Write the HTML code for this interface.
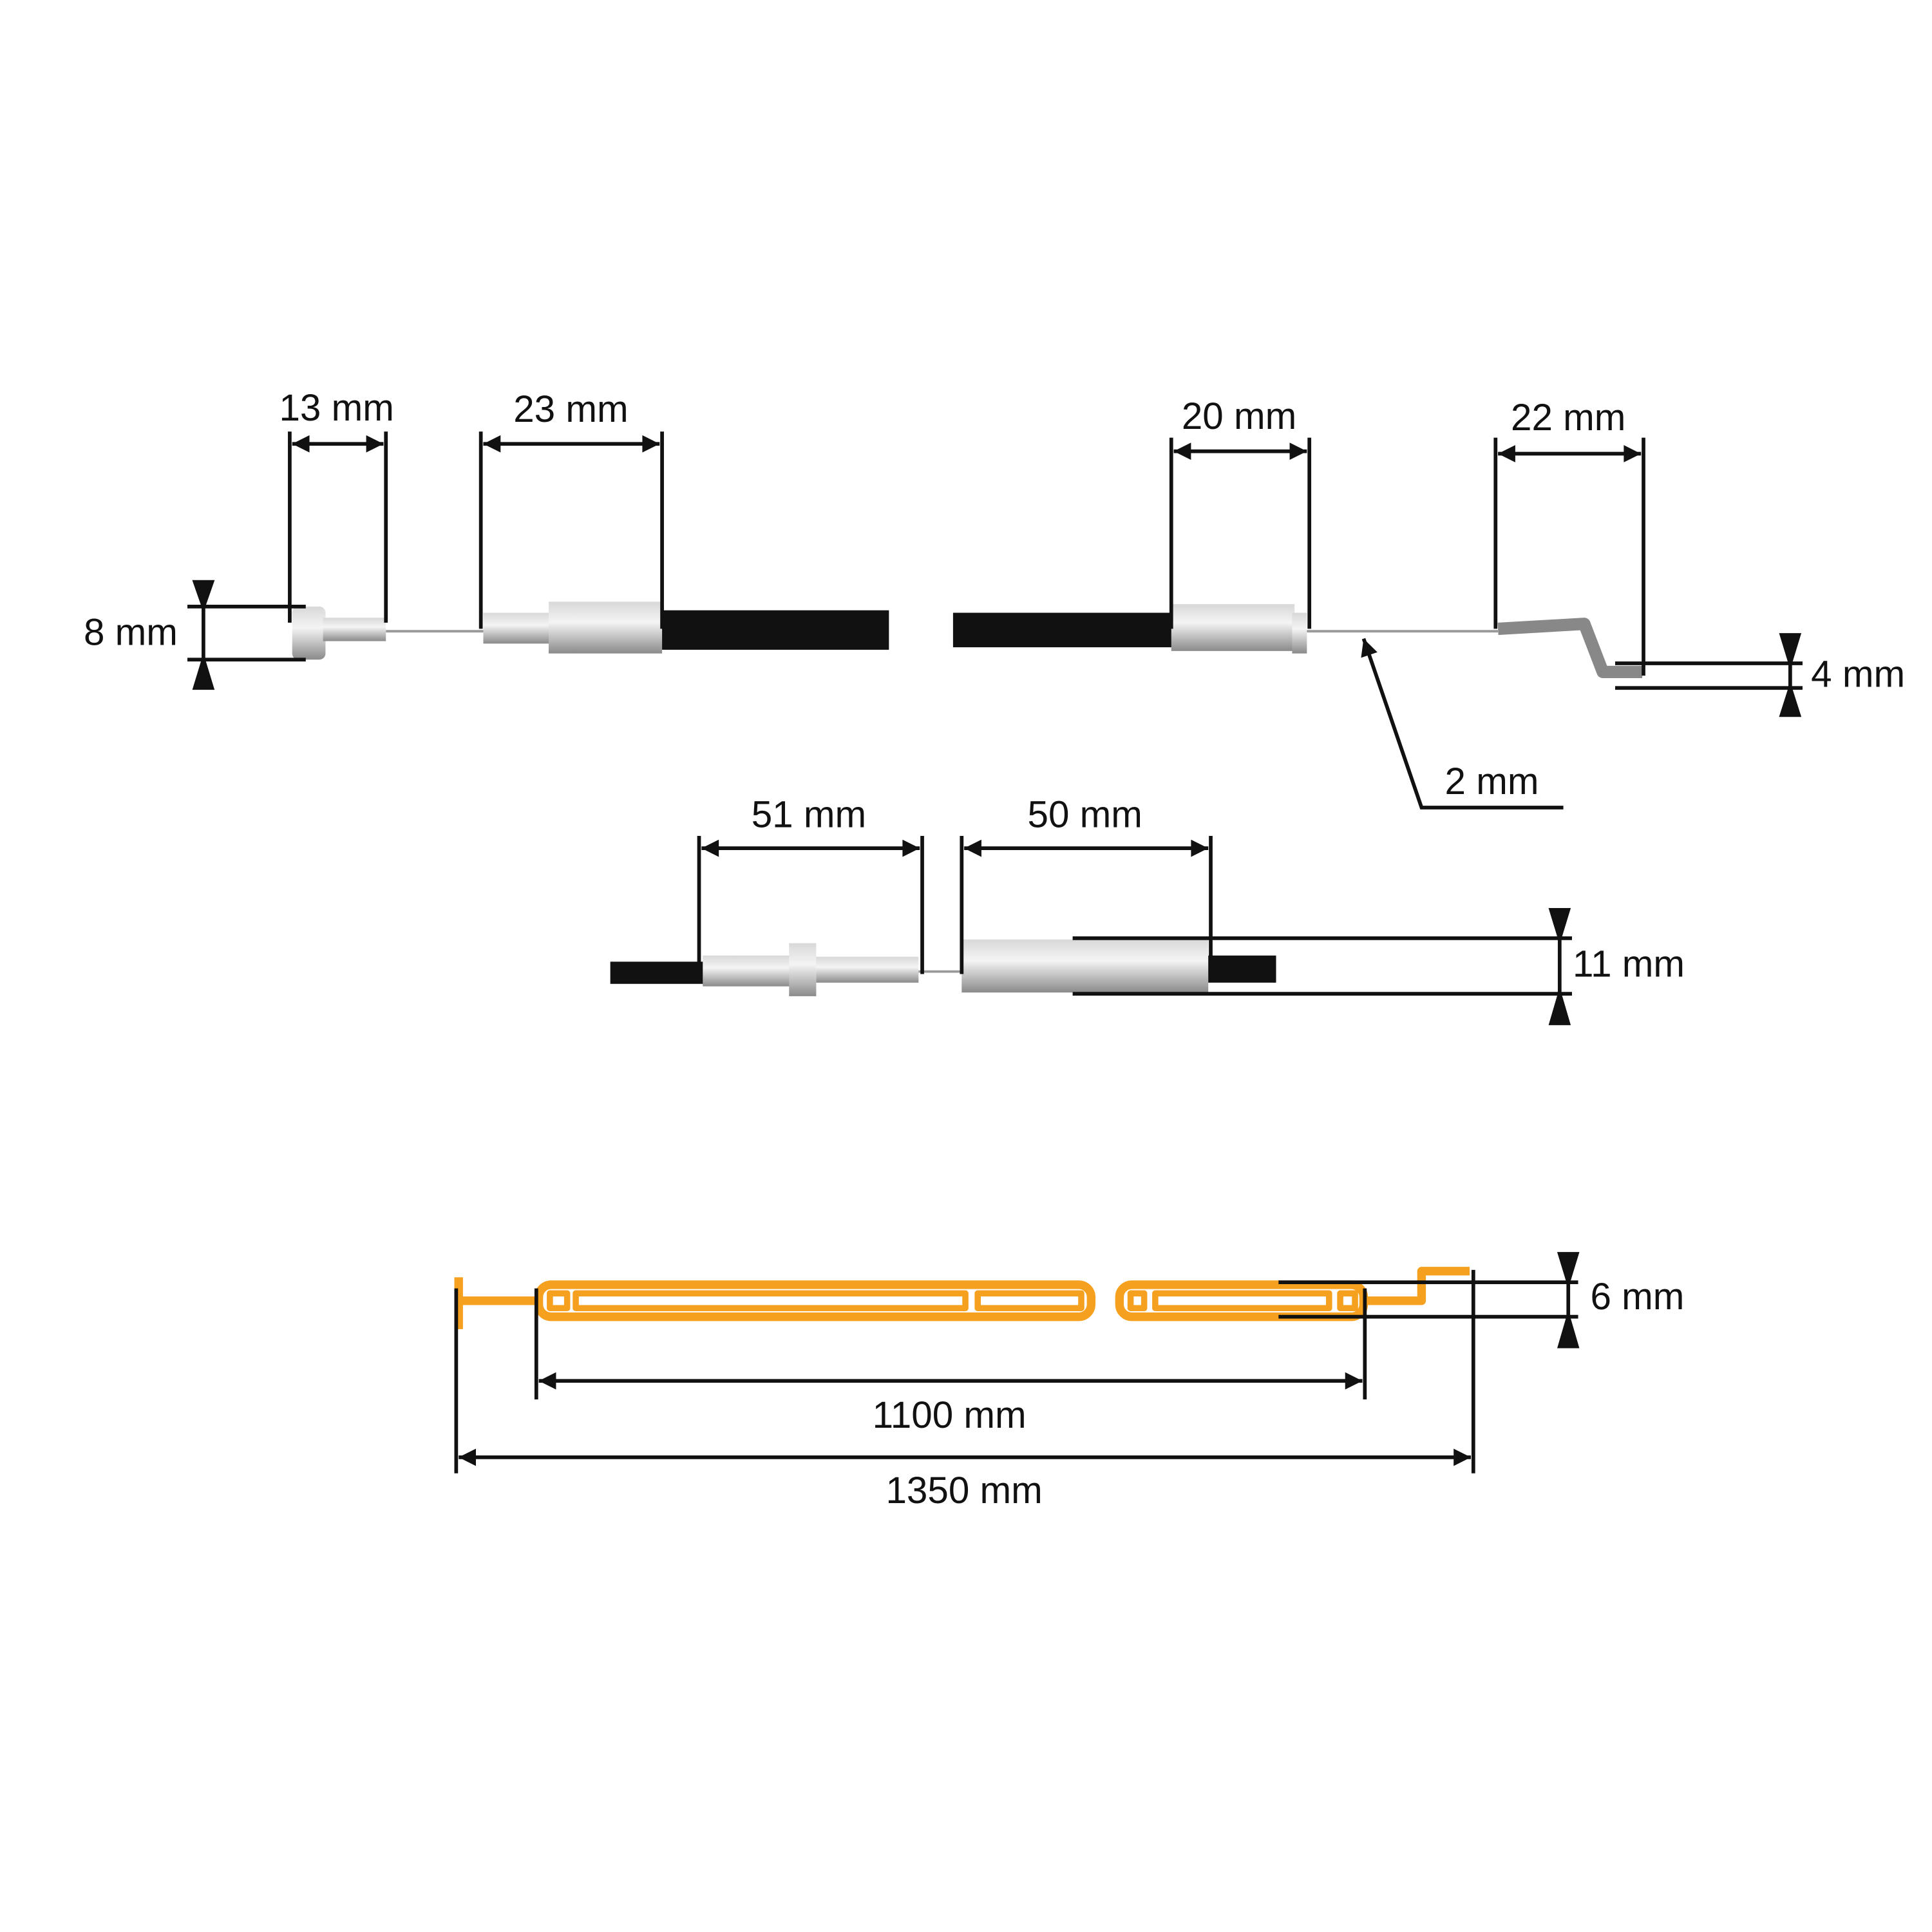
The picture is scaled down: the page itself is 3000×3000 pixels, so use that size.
<!DOCTYPE html>
<html><head><meta charset="utf-8"><style>
html,body{margin:0;padding:0;background:#fff}
svg{display:block}
text{font-family:"Liberation Sans",sans-serif;font-size:30.5px;fill:#111;text-anchor:middle}
</style></head><body>
<svg width="3000" height="3000" viewBox="0 0 1567 1567" xmlns="http://www.w3.org/2000/svg">
<defs>
<marker id="b" viewBox="0 0 10 10" refX="10" refY="5" markerWidth="20" markerHeight="14" orient="auto-start-reverse" markerUnits="userSpaceOnUse"><path d="M0,0 L10,5 L0,10 z" fill="#111"/></marker>
<linearGradient id="m" x1="0" y1="0" x2="0" y2="1"><stop offset="0" stop-color="#d8d8d8"/><stop offset="0.4" stop-color="#f4f4f4"/><stop offset="1" stop-color="#8a8a8a"/></linearGradient>
</defs>
<line x1="313" y1="512" x2="392" y2="512" stroke="#999" stroke-width="2"/>
<rect x="237" y="492" width="27" height="43" rx="5" fill="url(#m)"/>
<rect x="262" y="501" width="51" height="19" fill="url(#m)"/>
<rect x="392" y="497" width="55" height="25" fill="url(#m)"/>
<rect x="445" y="488" width="92" height="42" fill="url(#m)"/>
<rect x="537" y="495" width="184" height="32" fill="#111"/>
<rect x="773" y="497" width="178" height="28" fill="#111"/>
<rect x="950" y="490" width="100" height="38" fill="url(#m)"/>
<rect x="1048" y="497" width="12" height="33" fill="url(#m)"/>
<line x1="1060" y1="512" x2="1215" y2="512" stroke="#999" stroke-width="2"/>
<path d="M1215,510 L1285,506 L1300,545 L1332,545" stroke="#888" stroke-width="10" fill="none" stroke-linejoin="round"/>
<rect x="495" y="780" width="76" height="18" fill="#111"/>
<rect x="570" y="775" width="72" height="25" fill="url(#m)"/>
<rect x="640" y="765" width="22" height="43" fill="url(#m)"/>
<rect x="662" y="776" width="83" height="21" fill="url(#m)"/>
<line x1="745" y1="788" x2="780" y2="788" stroke="#999" stroke-width="2"/>
<rect x="780" y="762" width="200" height="43" fill="url(#m)"/>
<rect x="980" y="775" width="55" height="22" fill="#111"/>
<g stroke="#111" stroke-width="3" fill="none">
<line x1="235" y1="350" x2="235" y2="505"/><line x1="313" y1="350" x2="313" y2="505"/>
<line x1="237" y1="360" x2="311" y2="360" marker-start="url(#b)" marker-end="url(#b)"/>
<line x1="390" y1="350" x2="390" y2="510"/><line x1="537" y1="350" x2="537" y2="510"/>
<line x1="392" y1="360" x2="535" y2="360" marker-start="url(#b)" marker-end="url(#b)"/>
<line x1="152" y1="492" x2="248" y2="492"/><line x1="152" y1="535" x2="248" y2="535"/>
<line x1="165" y1="472" x2="165" y2="558"/>
<path d="M158,472 L172,472 L165,492 z" fill="#111"/><path d="M158,558 L172,558 L165,535 z" fill="#111"/>
<line x1="950" y1="355" x2="950" y2="510"/><line x1="1062" y1="355" x2="1062" y2="510"/>
<line x1="952" y1="366" x2="1060" y2="366" marker-start="url(#b)" marker-end="url(#b)"/>
<line x1="1213" y1="355" x2="1213" y2="510"/><line x1="1333" y1="355" x2="1333" y2="548"/>
<line x1="1215" y1="368" x2="1331" y2="368" marker-start="url(#b)" marker-end="url(#b)"/>
<line x1="1310" y1="538" x2="1462" y2="538"/><line x1="1310" y1="558" x2="1462" y2="558"/>
<line x1="1452" y1="515" x2="1452" y2="580"/>
<path d="M1445,515 L1459,515 L1452,538 z" fill="#111"/><path d="M1445,580 L1459,580 L1452,558 z" fill="#111"/>
<path d="M1268,655 L1153,655 L1106,518" marker-end="url(#b)"/>
<line x1="567" y1="678" x2="567" y2="790"/><line x1="748" y1="678" x2="748" y2="790"/>
<line x1="569" y1="688" x2="746" y2="688" marker-start="url(#b)" marker-end="url(#b)"/>
<line x1="780" y1="678" x2="780" y2="790"/><line x1="982" y1="678" x2="982" y2="790"/>
<line x1="782" y1="688" x2="980" y2="688" marker-start="url(#b)" marker-end="url(#b)"/>
<line x1="870" y1="761" x2="1275" y2="761"/><line x1="870" y1="806" x2="1275" y2="806"/>
<line x1="1265" y1="738" x2="1265" y2="830"/>
<path d="M1258,738 L1272,738 L1265,761 z" fill="#111"/><path d="M1258,830 L1272,830 L1265,806 z" fill="#111"/>
</g>
<g stroke="#f5a01e" stroke-width="7" fill="none" stroke-linejoin="round">
<line x1="372" y1="1036" x2="372" y2="1078"/>
<line x1="372" y1="1055" x2="437" y2="1055"/>
<rect x="437" y="1042" width="448" height="26" rx="10"/>
<rect x="446" y="1049" width="14" height="12" stroke-width="5"/>
<rect x="467" y="1049" width="316" height="12" stroke-width="5"/>
<rect x="793" y="1049" width="84" height="12" stroke-width="5"/>
<rect x="908" y="1042" width="198" height="26" rx="10"/>
<rect x="917" y="1049" width="11" height="12" stroke-width="5"/>
<rect x="937" y="1049" width="141" height="12" stroke-width="5"/>
<rect x="1087" y="1049" width="12" height="12" stroke-width="5"/>
<path d="M1106,1055 L1153,1055 L1153,1031 L1192,1031"/>
</g>
<g stroke="#111" stroke-width="3" fill="none">
<line x1="1037" y1="1040" x2="1280" y2="1040"/><line x1="1037" y1="1068" x2="1280" y2="1068"/>
<line x1="1272" y1="1017" x2="1272" y2="1092"/>
<path d="M1265,1017 L1279,1017 L1272,1040 z" fill="#111"/><path d="M1265,1092 L1279,1092 L1272,1068 z" fill="#111"/>
<line x1="435" y1="1045" x2="435" y2="1135"/><line x1="1107" y1="1045" x2="1107" y2="1135"/>
<line x1="437" y1="1120" x2="1105" y2="1120" marker-start="url(#b)" marker-end="url(#b)"/>
<line x1="370" y1="1045" x2="370" y2="1195"/><line x1="1195" y1="1030" x2="1195" y2="1195"/>
<line x1="372" y1="1182" x2="1193" y2="1182" marker-start="url(#b)" marker-end="url(#b)"/>
</g>
<text x="273" y="341">13 mm</text>
<text x="463" y="342">23 mm</text>
<text x="106" y="523">8 mm</text>
<text x="1005" y="348">20 mm</text>
<text x="1272" y="349">22 mm</text>
<text x="1507" y="557">4 mm</text>
<text x="1210" y="644">2 mm</text>
<text x="656" y="671">51 mm</text>
<text x="880" y="671">50 mm</text>
<text x="1321" y="792">11 mm</text>
<text x="1328" y="1062">6 mm</text>
<text x="770" y="1158">1100 mm</text>
<text x="782" y="1219">1350 mm</text>
</svg>
</body></html>
